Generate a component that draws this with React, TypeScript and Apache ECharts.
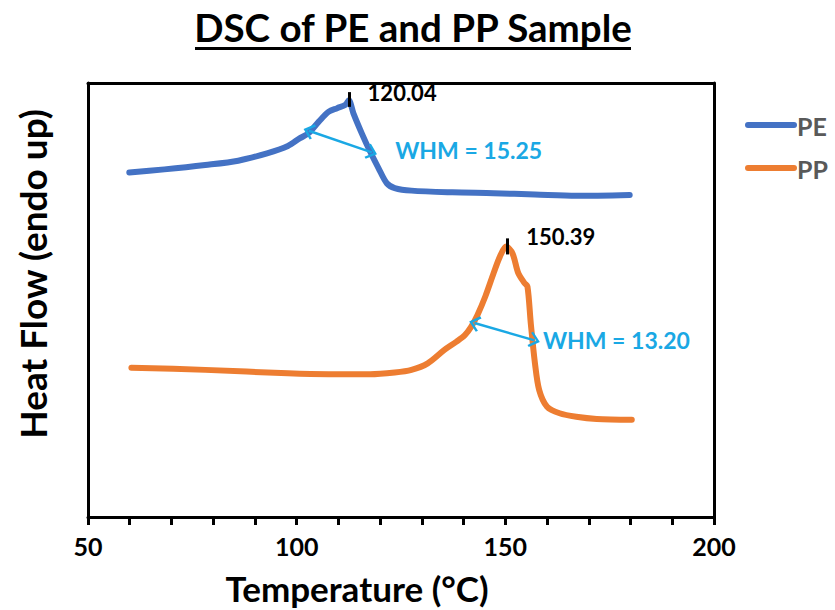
import React, { useEffect, useRef } from "react";
import * as echarts from "echarts";

// Temperature (°C) and heat flow (arbitrary units, endo up)
const peTemp = [59.9, 68.3, 78.1, 86.0, 92.9, 97.9, 100.8, 102.8, 105.3, 107.7, 109.7, 111.7, 112.5, 113.6, 115.6, 117.6, 119.6, 121.6, 123.5, 127.5, 137.3, 147.2, 157.1, 167.0, 179.8];
const peFlow = [79.4, 80.1, 81.1, 82.1, 83.8, 85.5, 87.3, 88.4, 91.1, 93.4, 94.2, 95.0, 96.0, 93.0, 88.4, 84.2, 80.4, 76.9, 75.8, 75.2, 74.8, 74.6, 74.3, 74.0, 74.2];
const ppTemp = [60.4, 78.1, 97.9, 107.7, 117.6, 123.5, 127.5, 131.4, 135.4, 138.3, 140.3, 141.8, 143.3, 145.2, 147.2, 148.7, 150.2, 151.7, 153.1, 154.6, 155.3, 156.1, 157.1, 158.1, 160.0, 163.0, 167.0, 171.9, 180.3];
const ppFlow = [34.4, 33.9, 33.1, 32.9, 32.9, 33.3, 33.9, 35.4, 38.5, 40.4, 41.9, 43.8, 46.5, 50.8, 56.2, 60.0, 62.3, 60.8, 56.2, 53.9, 53.1, 44.6, 35.4, 29.3, 25.4, 23.9, 23.1, 22.6, 22.4];
const xTicks = [50, 100, 150, 200];
const seriesNames = ["PE", "PP"];
const seriesColors = ["#4472C4", "#ED7D31"];
const peakLabels = ["120.04", "150.39"];
const whmLabels = ["WHM = 15.25", "WHM = 13.20"];

const FONT = "Lato";
const CYAN = "#1AA8E4";
const chevron = "path://M0,0 L10,10 L8,12 L0,4 L-8,12 L-10,10 Z";

function zip(a: number[], b: number[]) {
  return a.map((v, i) => [v, b[i]]);
}

export default function App() {
  const ref = useRef<HTMLDivElement>(null);
  useEffect(() => {
    const chart = echarts.init(ref.current!, null, { renderer: "svg" });
    const textLabel = (color: string, size: number) => ({
      show: true,
      position: [0, 0],
      align: "left",
      verticalAlign: "middle",
      color,
      fontFamily: FONT,
      fontWeight: "bold",
      fontSize: size,
      formatter: (p: any) => p.name,
    });
    const border = { show: true, onZero: false, lineStyle: { color: "#000", width: 3 } };
    const legendItems: any[] = [];
    seriesNames.forEach((name, i) => {
      const y = 125 + i * 43;
      legendItems.push({ type: "line", shape: { x1: 748, y1: y, x2: 794, y2: y }, style: { stroke: seriesColors[i], lineWidth: 6, lineCap: "round" } });
      legendItems.push({
        type: "text",
        x: 797,
        y: y + 1,
        style: { text: name, fontFamily: FONT, fontWeight: "bold", fontSize: 25, fill: "#595959", align: "left", verticalAlign: "middle" },
      });
    });
    chart.setOption({
      animation: false,
      backgroundColor: "#fff",
      grid: { left: 88, right: 121, top: 83, bottom: 93 },
      xAxis: [
        {
          type: "value",
          min: 50,
          max: 200,
          interval: 10,
          axisLine: border,
          axisTick: { show: true, length: 8, lineStyle: { color: "#000", width: 3 } },
          axisLabel: {
            margin: 16,
            color: "#000",
            fontFamily: FONT,
            fontWeight: "bold",
            fontSize: 25,
            formatter: (v: number) => (xTicks.includes(v) ? String(v) : ""),
          },
          splitLine: { show: false },
        },
        {
          type: "value",
          position: "top",
          min: 50,
          max: 200,
          axisLine: border,
          axisTick: { show: false },
          axisLabel: { show: false },
          splitLine: { show: false },
        },
      ],
      yAxis: [
        {
          type: "value",
          min: 0,
          max: 100,
          axisLine: border,
          axisTick: { show: false },
          axisLabel: { show: false },
          splitLine: { show: false },
        },
        {
          type: "value",
          position: "right",
          min: 0,
          max: 100,
          axisLine: border,
          axisTick: { show: false },
          axisLabel: { show: false },
          splitLine: { show: false },
        },
      ],
      graphic: [
        {
          type: "text",
          x: 413,
          y: 27,
          style: { text: "DSC of PE and PP Sample", fontFamily: FONT, fontWeight: "bold", fontSize: 38.5, fill: "#000", align: "center", verticalAlign: "middle" },
        },
        { type: "line", shape: { x1: 195, y1: 48.5, x2: 631, y2: 48.5 }, style: { stroke: "#000", lineWidth: 3 } },
        {
          type: "text",
          x: 357,
          y: 588,
          style: { text: "Temperature (°C)", fontFamily: FONT, fontWeight: "bold", fontSize: 35, fill: "#000", align: "center", verticalAlign: "middle" },
        },
        {
          type: "text",
          x: 32,
          y: 274,
          rotation: Math.PI / 2,
          style: { text: "Heat Flow (endo up)", fontFamily: FONT, fontWeight: "bold", fontSize: 37, fill: "#000", align: "center", verticalAlign: "middle" },
        },
        ...legendItems,
      ],
      series: [
        {
          name: seriesNames[0],
          type: "line",
          data: zip(peTemp, peFlow),
          symbol: "none",
          smooth: 0.3,
          lineStyle: { color: seriesColors[0], width: 6, cap: "round", join: "round" },
          itemStyle: { color: seriesColors[0] },
          markLine: {
            silent: true,
            animation: false,
            label: { show: false },
            data: [
              [
                { coord: [112.5, 94.5], symbol: "none", lineStyle: { color: "#000", width: 3, type: "solid" } },
                { coord: [112.5, 97.9], symbol: "none" },
              ],
              [
                { coord: [102.9, 89.0], symbol: chevron, symbolSize: [16, 11], lineStyle: { color: CYAN, width: 2.5, type: "solid" }, itemStyle: { color: CYAN } },
                { coord: [118.0, 84.0], symbol: chevron, symbolSize: [16, 11], itemStyle: { color: CYAN } },
              ],
            ],
          },
          markPoint: {
            silent: true,
            symbolSize: 0,
            data: [
              { name: peakLabels[0], coord: [117.0, 97.9], label: textLabel("#000", 22) },
              { name: whmLabels[0], coord: [123.6, 84.6], label: textLabel(CYAN, 23) },
            ],
          },
        },
        {
          name: seriesNames[1],
          type: "line",
          data: zip(ppTemp, ppFlow),
          symbol: "none",
          smooth: 0.3,
          lineStyle: { color: seriesColors[1], width: 6, cap: "round", join: "round" },
          itemStyle: { color: seriesColors[1] },
          markLine: {
            silent: true,
            animation: false,
            label: { show: false },
            data: [
              [
                { coord: [150.4, 60.5], symbol: "none", lineStyle: { color: "#000", width: 3, type: "solid" } },
                { coord: [150.4, 64.2], symbol: "none" },
              ],
              [
                { coord: [142.6, 44.7], symbol: chevron, symbolSize: [16, 11], lineStyle: { color: CYAN, width: 2.5, type: "solid" }, itemStyle: { color: CYAN } },
                { coord: [157.0, 40.7], symbol: chevron, symbolSize: [16, 11], itemStyle: { color: CYAN } },
              ],
            ],
          },
          markPoint: {
            silent: true,
            symbolSize: 0,
            data: [
              { name: peakLabels[1], coord: [155.0, 64.6], label: textLabel("#000", 22) },
              { name: whmLabels[1], coord: [159.0, 40.8], label: textLabel(CYAN, 23) },
            ],
          },
        },
      ],
    });
    return () => chart.dispose();
  }, []);
  return <div ref={ref} style={{ width: 835, height: 610, position: "absolute", left: 0, top: 0 }} />;
}
